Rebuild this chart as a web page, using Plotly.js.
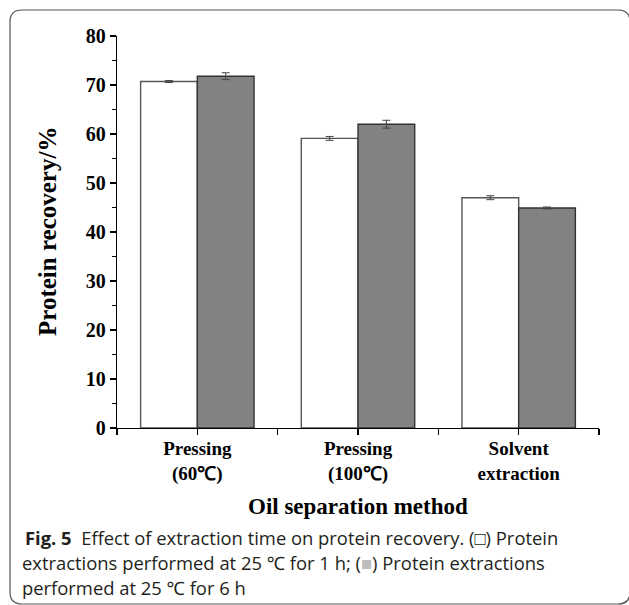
<!DOCTYPE html>
<html>
<head>
<meta charset="utf-8">
<script src="https://cdn.plot.ly/plotly-3.0.1.min.js"></script>
<style>html,body{margin:0;padding:0;background:#fff;}#chart{width:629px;height:605px;}</style>
</head>
<body>
<div id="chart"></div>
<script>
const categories = ['Pressing<br>(60℃)', 'Pressing<br>(100℃)', 'Solvent<br>extraction'];
const recovery1h = [70.7, 59.1, 47.0];
const error1h = [0.2, 0.4, 0.4];
const recovery6h = [71.8, 62.0, 44.9];
const error6h = [0.7, 0.8, 0.2];
const yTickVals = [0, 10, 20, 30, 40, 50, 60, 70, 80];

const W = 629, H = 605;
const L = 117, R = 599, T = 36, B = 428;
const px = x => (x - L) / (R - L);
const py = y => (B - y) / (B - T);

const xpos = categories.map((c, i) => i);
const serif = 'Liberation Serif, Times New Roman, serif';
const sans = 'Open Sans, Noto Sans, sans-serif';

const traces = [
  {
    type: 'bar', name: '1 h', x: xpos, y: recovery1h,
    marker: {color: '#ffffff', line: {color: '#555555', width: 1.4}},
    error_y: {type: 'data', array: error1h, visible: true, color: '#444', thickness: 1, width: 4}
  },
  {
    type: 'bar', name: '6 h', x: xpos, y: recovery6h,
    marker: {color: '#828282', line: {color: '#333333', width: 1.4}},
    error_y: {type: 'data', array: error6h, visible: true, color: '#444', thickness: 1, width: 4}
  }
];

function roundRect(x0, y0, x1, y1, r) {
  const X = v => px(v), Y = v => py(v);
  return `M ${X(x0 + r)},${Y(y0)} L ${X(x1 - r)},${Y(y0)} Q ${X(x1)},${Y(y0)} ${X(x1)},${Y(y0 + r)} ` +
         `L ${X(x1)},${Y(y1 - r)} Q ${X(x1)},${Y(y1)} ${X(x1 - r)},${Y(y1)} ` +
         `L ${X(x0 + r)},${Y(y1)} Q ${X(x0)},${Y(y1)} ${X(x0)},${Y(y1 - r)} ` +
         `L ${X(x0)},${Y(y0 + r)} Q ${X(x0)},${Y(y0)} ${X(x0 + r)},${Y(y0)} Z`;
}

const capFont = {family: sans, size: 18.4, color: '#231f20'};
const layout = {
  width: W, height: H,
  margin: {l: L, r: W - R, t: T, b: H - B, pad: 0},
  paper_bgcolor: '#fff', plot_bgcolor: '#fff',
  showlegend: false,
  barmode: 'group', bargap: 0.294, bargroupgap: 0,
  xaxis: {
    range: [-0.5, 2.5], tickmode: 'array', tickvals: xpos, ticktext: categories,
    showline: true, linecolor: '#000', linewidth: 1.2, showgrid: false, zeroline: false,
    ticks: 'outside', ticklen: 6, tickwidth: 1.2, tickcolor: '#000',
    minor: {tick0: 0.5, dtick: 1, ticks: 'outside', ticklen: 6, tickwidth: 1.2, tickcolor: '#000'},
    tickfont: {family: serif, size: 19, weight: 'bold', color: '#000'},
    ticklabelstandoff: -3,
    fixedrange: true
  },
  yaxis: {
    range: [0, 80], tickmode: 'array', tickvals: yTickVals,
    showline: true, linecolor: '#000', linewidth: 1.2, showgrid: false, zeroline: false,
    ticks: 'outside', ticklen: 6, tickwidth: 1.2, tickcolor: '#000',
    minor: {dtick: 5, ticks: 'outside', ticklen: 4, tickwidth: 1.2, tickcolor: '#000'},
    tickfont: {family: serif, size: 20, weight: 'bold', color: '#000'},
    fixedrange: true
  },
  shapes: [
    {type: 'path', xref: 'paper', yref: 'paper', path: roundRect(10, 10, 630, 604, 12),
     line: {color: '#555', width: 1.2}, fillcolor: 'rgba(0,0,0,0)', layer: 'below'}
  ],
  annotations: [
    {xref: 'paper', yref: 'paper', x: px(47), y: py(232), text: '<b>Protein recovery/%</b>',
     textangle: -90, showarrow: false, xanchor: 'center', yanchor: 'middle',
     font: {family: serif, size: 25, color: '#000'}},
    {xref: 'paper', yref: 'paper', x: px(358), y: py(506), text: '<b>Oil separation method</b>',
     showarrow: false, xanchor: 'center', yanchor: 'middle',
     font: {family: serif, size: 23, color: '#000'}},
    {xref: 'paper', yref: 'paper', x: px(23), y: py(537), xanchor: 'left', yanchor: 'middle', showarrow: false, align: 'left',
     text: '<b>Fig. 5</b>  Effect of extraction time on protein recovery. (□) Protein', font: capFont},
    {xref: 'paper', yref: 'paper', x: px(20), y: py(562), xanchor: 'left', yanchor: 'middle', showarrow: false, align: 'left',
     text: 'extractions performed at 25 ℃ for 1 h; (<span style="color:#bdbdbd">■</span>) Protein extractions', font: capFont},
    {xref: 'paper', yref: 'paper', x: px(20), y: py(587), xanchor: 'left', yanchor: 'middle', showarrow: false, align: 'left',
     text: 'performed at 25 ℃ for 6 h', font: capFont}
  ]
};

Plotly.newPlot('chart', traces, layout, {staticPlot: true, displayModeBar: false});
</script>
</body>
</html>
